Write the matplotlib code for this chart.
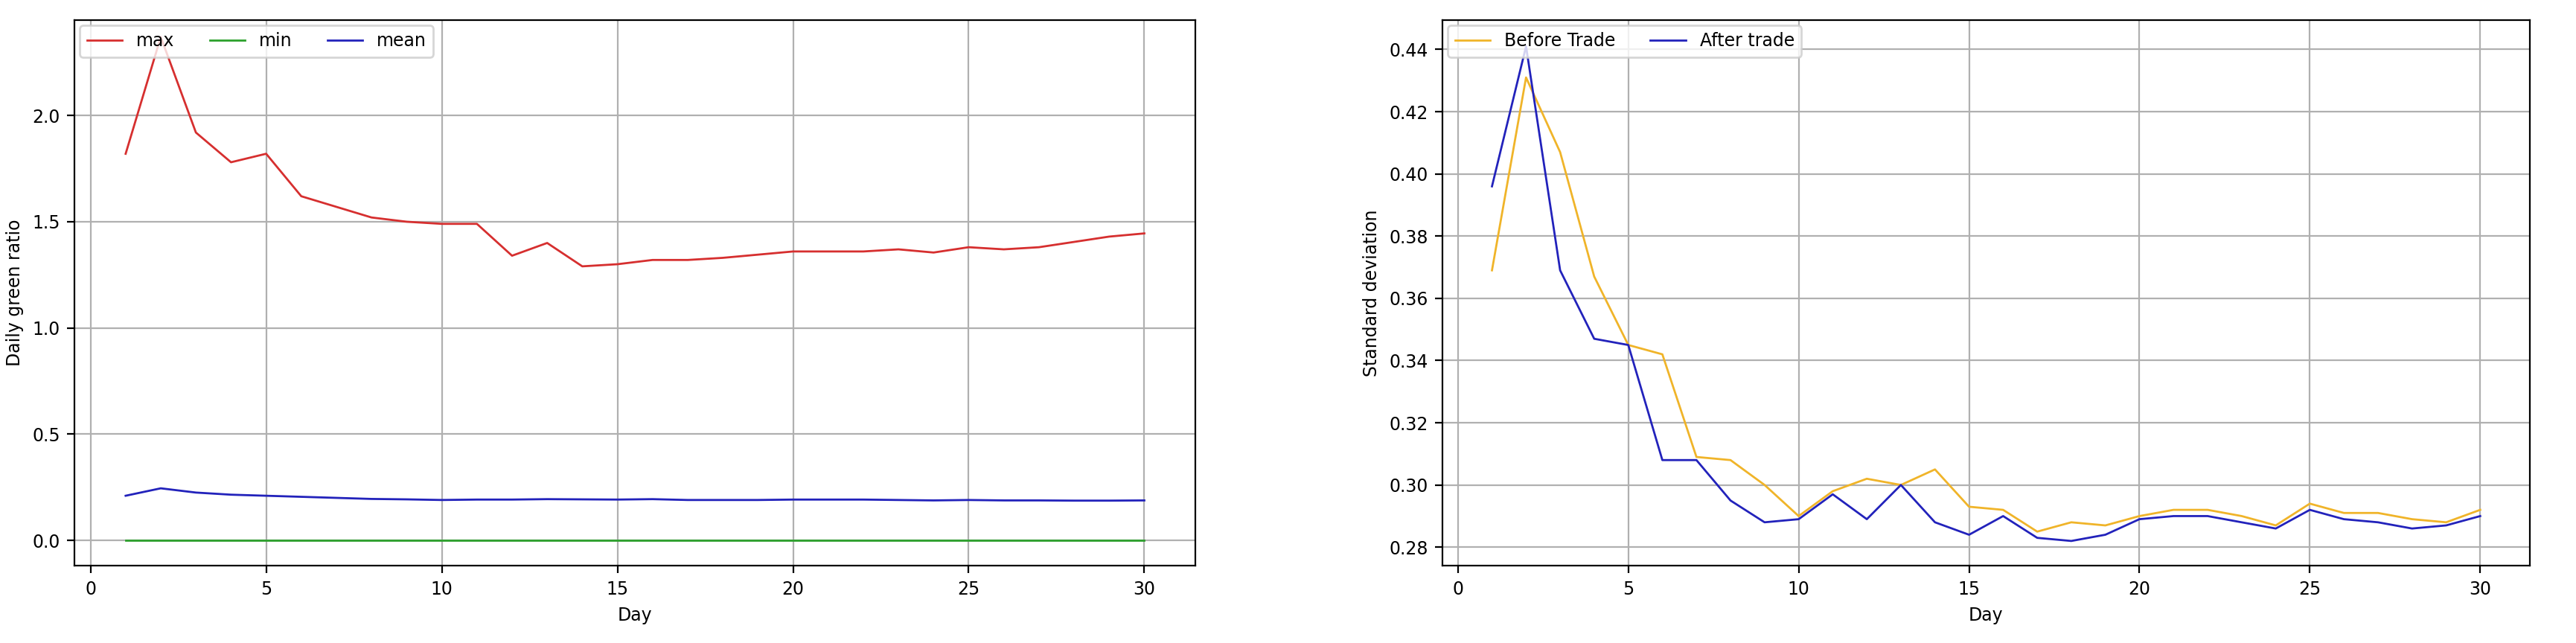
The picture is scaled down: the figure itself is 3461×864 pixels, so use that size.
import numpy as np
import matplotlib
matplotlib.use("Agg")
import matplotlib.pyplot as plt

days = np.arange(1, 31)
ratio_max = [1.82, 2.37, 1.92, 1.78, 1.82, 1.62, 1.57, 1.52, 1.50, 1.49,
             1.49, 1.34, 1.40, 1.29, 1.30, 1.32, 1.32, 1.33, 1.345, 1.36,
             1.36, 1.36, 1.37, 1.355, 1.38, 1.37, 1.38, 1.405, 1.43, 1.445]
ratio_min = [0.0] * 30
ratio_mean = [0.21, 0.245, 0.225, 0.215, 0.21, 0.205, 0.20, 0.195, 0.193, 0.19,
              0.192, 0.192, 0.194, 0.193, 0.192, 0.194, 0.19, 0.19, 0.19, 0.192,
              0.192, 0.192, 0.19, 0.188, 0.19, 0.188, 0.188, 0.187, 0.187, 0.188]
std_before = [0.369, 0.431, 0.407, 0.367, 0.345, 0.342, 0.309, 0.308, 0.300, 0.290,
              0.298, 0.302, 0.300, 0.305, 0.293, 0.292, 0.285, 0.288, 0.287, 0.290,
              0.292, 0.292, 0.290, 0.287, 0.294, 0.291, 0.291, 0.289, 0.288, 0.292]
std_after = [0.396, 0.441, 0.369, 0.347, 0.345, 0.308, 0.308, 0.295, 0.288, 0.289,
             0.297, 0.289, 0.300, 0.288, 0.284, 0.290, 0.283, 0.282, 0.284, 0.289,
             0.290, 0.290, 0.288, 0.286, 0.292, 0.289, 0.288, 0.286, 0.287, 0.290]

fig = plt.figure(figsize=(17.305, 4.32), dpi=200)
ax1 = fig.add_axes([0.029, 0.12, 0.435, 0.849])
ax2 = fig.add_axes([0.560, 0.12, 0.422, 0.849])

ax1.plot(days, ratio_max, color='#d62f2f', lw=1, label='max')
ax1.plot(days, ratio_min, color='#2ca02c', lw=1, label='min')
ax1.plot(days, ratio_mean, color='#2222bb', lw=1, label='mean')
ax1.set_ylim(-0.12, 2.45)
ax1.set_xlabel('Day', fontsize=8.5)
ax1.set_ylabel('Daily green ratio', fontsize=8.5)
ax1.legend(loc='upper left', ncol=3, fontsize=8.5, borderaxespad=0.3)

ax2.plot(days, std_before, color='#f0b429', lw=1, label='Before Trade')
ax2.plot(days, std_after, color='#2222bb', lw=1, label='After trade')
ax2.set_ylim(0.274, 0.4495)
ax2.set_xlabel('Day', fontsize=8.5)
ax2.set_ylabel('Standard deviation', fontsize=8.5)
ax2.legend(loc='upper left', ncol=2, fontsize=8.5, borderaxespad=0.3)

for ax in (ax1, ax2):
    ax.grid(True)
    ax.tick_params(labelsize=8.5)
    ax.set_xticks([0, 5, 10, 15, 20, 25, 30])

fig.savefig('out.png', dpi=200)
